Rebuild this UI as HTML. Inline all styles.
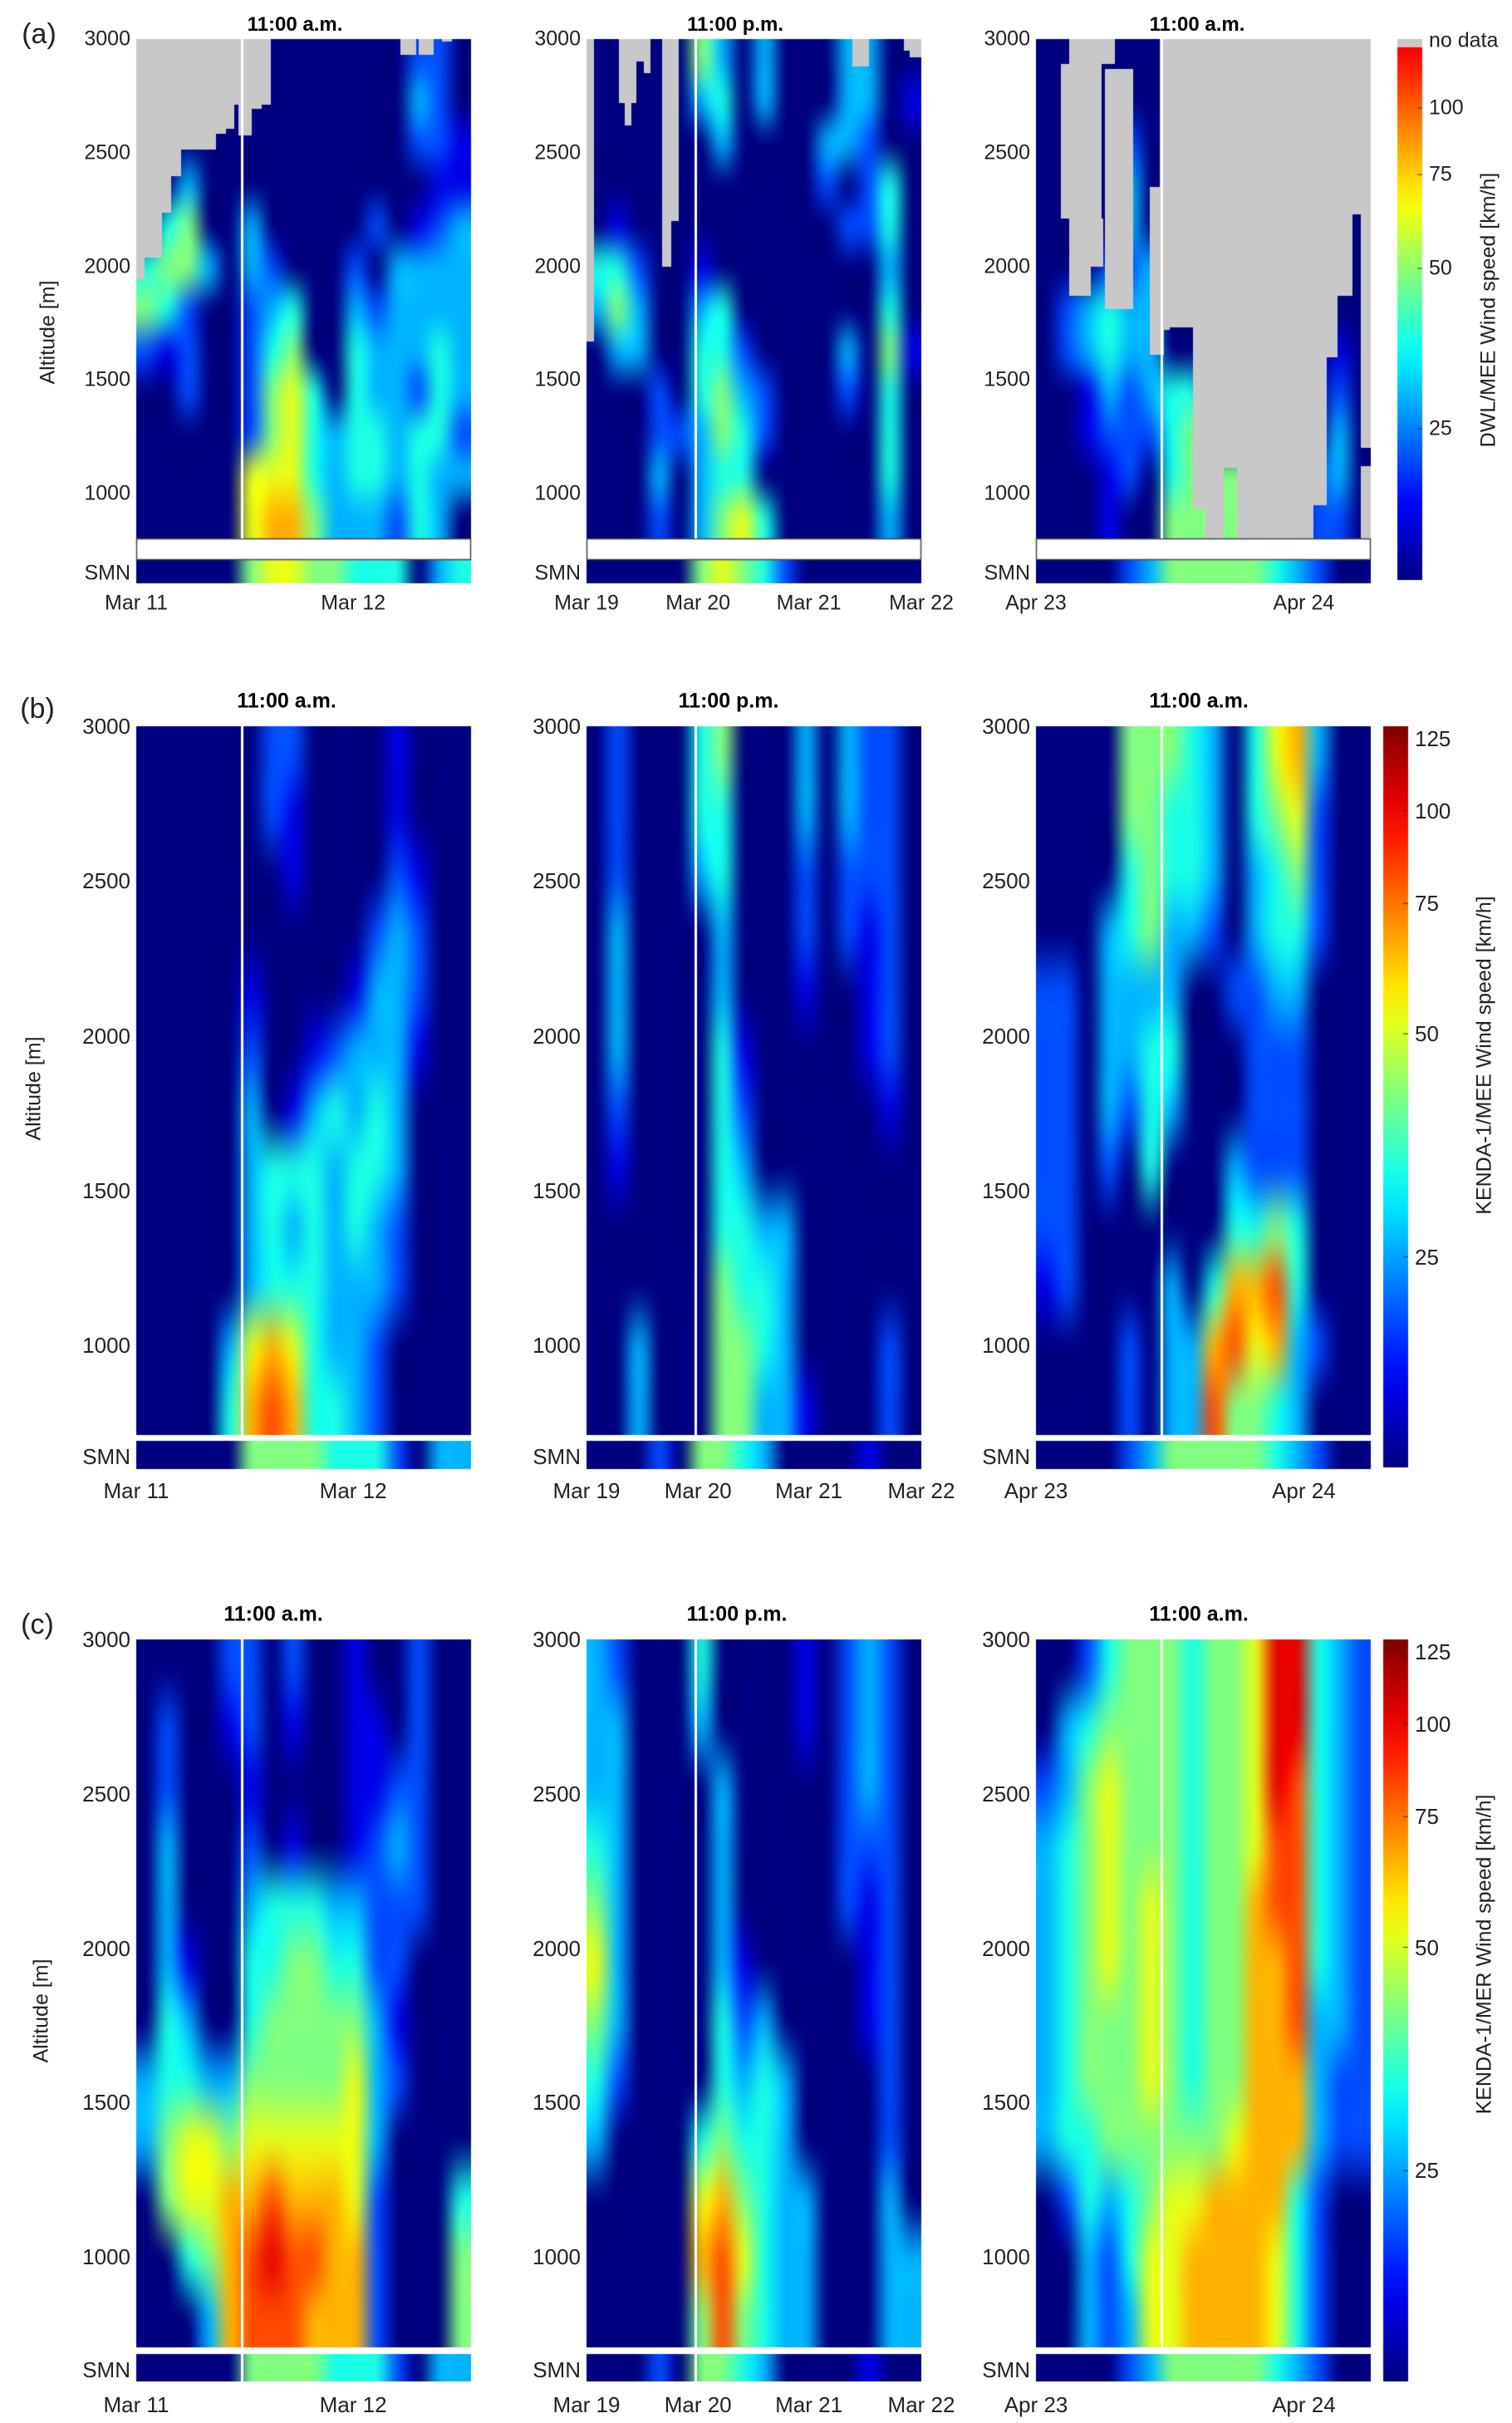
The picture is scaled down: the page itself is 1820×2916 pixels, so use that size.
<!DOCTYPE html>
<html><head><meta charset="utf-8">
<style>
html,body{margin:0;padding:0;background:#fff;}
body{width:1820px;height:2916px;position:relative;overflow:hidden;font-family:"Liberation Sans",sans-serif;color:#222;}
canvas{position:absolute;left:0;top:0;}
.t{position:absolute;white-space:nowrap;line-height:1;}
.ra{transform:translate(-100%,-50%);}
.ct{transform:translate(-50%,-50%);}
.lf{transform:translate(0,-50%);}
.fa{font-size:25px;}
.fb{font-family:"Liberation Sans Narrow","Liberation Sans",sans-serif;font-size:26px;}
.ttl{font-weight:bold;font-size:24px;color:#000;}
.ttlb{font-weight:bold;font-size:25px;color:#000;font-family:"Liberation Sans Narrow","Liberation Sans",sans-serif;}
.pl{font-size:34px;}
.rot{transform:translate(-50%,-50%) rotate(-90deg);}
</style></head>
<body>
<canvas id="cv" width="1820" height="2916"></canvas>
<script>
// ---------- DATA (levels 0-9 of wind speed, rows top=3000 m -> bottom) ----------
const altTicks = [1000,1500,2000,2500,3000];
const datesA = ["Mar 11","Mar 12"];
const datesB = ["Mar 19","Mar 20","Mar 21","Mar 22"];
const datesC = ["Apr 23","Apr 24"];
const dayFracA = [0,0.648];
const dayFracB = [0,0.333,0.664,1];
const dayFracC = [0,0.8];
const lineFrac = [0.316,0.324,0.375];
const titlesA = ["11:00  a.m.","11:00  p.m.","11:00  a.m."];
const titlesB = ["11:00 a.m.","11:00 p.m.","11:00 a.m."];
const cbTicksA = [25,50,75,100];
const cbTicksB = [25,50,75,100,125];

const a1 = ["0000000000000220","0000000000000320","0000000000000221","0030000000000011","0450030000020123","4553032000203333","5420023400323333","2120024500433343","0020025640433243","0000025643443442","0000066643443433","0000067753332430"];
const a2 = ["0000053030003300","0000034030003301","0000003000033200","0000000000020240","0100000000002240","4420010000000030","3530034000000040","0330044200003051","0002045320002040","0002235420000040","0003034400000040","0002035640000030"];
const a3 = ["0000000000000000","0000000000000000","0000200000000000","0000300000000000","0000300000000000","0002230000000000","0234330000000000","0234330000000010","0013234400000020","0012224500000030","0001204555500230","0001005555600220"];
const b1 = ["0000002200001000","0000002100001000","0000000100002100","0000000000023200","0000010000133200","0000020012333100","0000030134343000","0000034443443000","0000034343432000","0000034443332000","0000367643320000","0000478744320000"];
const b2 = ["0200045000303220","0200044000303220","0200034000202220","0300003000202120","0300003000100120","0300004100000120","0200004200000010","0100004300000000","0000004433000000","0000005443000000","0030005543000020","0030005533100020"];
const b3 = ["0000555430467300","0000554430456200","0000454430345200","0003453320344200","2203333002233000","2203344000222000","2203243000222000","2202040003222000","2200000004454000","1200003047784000","0000203378673200","0000203385543000"];
const c1 = ["0000220200100200","0200120100110200","0200010000112200","0300020100123200","0300034443322200","0310044554422000","0430045555531000","3443355555632000","3566566666630000","0566778777620004","0045789887720005","0003788877720005"];
const c2 = ["3200040000102320","3300030000102320","3300003000002320","4300003000002220","5300003000002120","6300003100000120","5300004230000120","4200004343000020","3000045443000020","0000067543300030","0000078643300033","0000058543300033"];
const c3 = ["0024555455699432","0345555455699432","2356555455698432","3456555455688432","3456565455788432","3456565455778432","3455565455778332","3455565455777322","3445555556777322","0243456677774200","0032466777764200","0032366777764200"];

const smnA1 = "0000056655444034";
const smnA2 = "0000056542000000";
const smnA3 = "0000235555543200";
const smnB1 = "0000055554442033";
const smnB2 = "0002055430000100";
const smnB3 = "0000235555543200";

// no-data regions: [xStartFrac, xEndFrac, altTop, altBottom]
const grayA1 = [[0,0.025,3000,1942],[0.025,0.077,3000,2040],[0.077,0.104,3000,2236],[0.104,0.133,3000,2396],[0.133,0.237,3000,2515],[0.237,0.267,3000,2582],[0.267,0.293,3000,2604],[0.293,0.306,3000,2710],[0.306,0.345,3000,2577],[0.345,0.375,3000,2692],[0.375,0.402,3000,2712],[0.788,0.836,3000,2929],[0.844,0.888,3000,2932],[0.913,0.943,3000,2990]];
const grayA2 = [[0,0.023,3000,1670],[0.096,0.15,3000,2720],[0.113,0.135,2720,2620],[0.15,0.17,3000,2900],[0.17,0.19,3000,2850],[0.225,0.252,3000,2000],[0.252,0.276,3000,2200],[0.794,0.844,3000,2880],[0.948,0.965,3000,2950],[0.965,1,3000,2920]];
const grayA3 = [[0.074,0.195,2890,2210],[0.10,0.165,2210,1870],[0.165,0.20,2210,2000],[0.10,0.235,3000,2890],[0.205,0.29,2870,1810],[0.34,0.37,2350,1610],[0.37,0.383,3000,1610],[0.383,0.40,3000,1720],[0.40,0.468,3000,1730],[0.468,0.505,3000,930],[0.505,0.56,3000,780],[0.56,0.60,3000,1115],[0.60,0.83,3000,780],[0.83,0.868,3000,950],[0.868,0.90,3000,1600],[0.90,0.945,3000,1870],[0.945,0.97,3000,2230],[0.97,1,3000,1200],[0.97,1,1120,780]];

// ---------- LAYOUT ----------
const colX = [164,706,1247];
const PW = 403;
const rowGeo = [
 {y1000:594,k:0.2735,dataBot:648,wTop:648,wBot:674,sTop:674,sBot:702,xl:726,cbX:1682,cbTop:57,cbBot:698,top:47},
 {y1000:1619,k:0.3725,dataBot:1727,wTop:1727,wBot:1734,sTop:1734,sBot:1768,xl:1794,cbX:1665,cbTop:874,cbBot:1766,top:874},
 {y1000:2716,k:0.3715,dataBot:2825,wTop:2825,wBot:2833,sTop:2833,sBot:2866,xl:2894,cbX:1665,cbTop:1973,cbBot:2866,top:1973}
];
const panels = [
 [ {d:a1,s:smnA1,g:grayA1},{d:a2,s:smnA2,g:grayA2},{d:a3,s:smnA3,g:grayA3} ],
 [ {d:b1,s:smnB1,g:[]},{d:b2,s:smnB2,g:[]},{d:b3,s:smnB3,g:[]} ],
 [ {d:c1,s:smnB1,g:[]},{d:c2,s:smnB2,g:[]},{d:c3,s:smnB3,g:[]} ]
];

function clamp(v){return Math.max(0,Math.min(1,v));}
function jet(t){
  return [Math.round(255*clamp(1.5-Math.abs(4*t-3))),Math.round(255*clamp(1.5-Math.abs(4*t-2))),Math.round(255*clamp(1.5-Math.abs(4*t-1)))];
}
function levelColor(l){return jet(l/10);}
function yAlt(g,alt){return g.y1000-(alt-1000)*g.k;}

const cv = document.getElementById('cv');
const ctx = cv.getContext('2d');

function gridCanvas(rows){
  const R=rows.length, C=rows[0].length;
  const oc=document.createElement('canvas'); oc.width=C; oc.height=R;
  const oc2=oc.getContext('2d'); const im=oc2.createImageData(C,R);
  for(let r=0;r<R;r++)for(let c=0;c<C;c++){
    const col=levelColor(parseInt(rows[r][c],10)); const i=(r*C+c)*4;
    im.data[i]=col[0];im.data[i+1]=col[1];im.data[i+2]=col[2];im.data[i+3]=255;
  }
  oc2.putImageData(im,0,0); return oc;
}

function addText(txt,x,y,cls,name){
  const d=document.createElement('div');
  d.textContent=txt; d.className='t '+cls;
  d.style.left=x+'px'; d.style.top=y+'px';
  
  
  document.body.appendChild(d);
}

ctx.imageSmoothingEnabled=true;
ctx.imageSmoothingQuality='high';
const dateSets=[[datesA,dayFracA],[datesB,dayFracB],[datesC,dayFracC]];

for(let ri=0;ri<3;ri++){
  const g=rowGeo[ri];
  const fcls = ri===0?'fa':'fb';
  for(let pi=0;pi<3;pi++){
    const p=panels[ri][pi]; const x0=colX[pi];
    const yTop=yAlt(g,3000);
    const gc=gridCanvas(p.d);
    ctx.drawImage(gc,0,0,gc.width,gc.height,x0,yTop,PW,g.dataBot-yTop);
    ctx.fillStyle='#c8c8c8';
    p.g.forEach(function(r){
      const xa=Math.round(x0+r[0]*PW), xb=Math.round(x0+r[1]*PW);
      const ya=Math.round(yAlt(g,r[2])); const yb=Math.round(Math.min(g.dataBot,yAlt(g,r[3])));
      ctx.fillRect(xa,ya,xb-xa,yb-ya);
    });
    const sc=gridCanvas([p.s]);
    ctx.drawImage(sc,0,0,sc.width,1,x0,g.sTop,PW,g.sBot-g.sTop);
    ctx.fillStyle='#fff'; ctx.fillRect(x0,g.wTop,PW,g.wBot-g.wTop);
    if(ri===0){ctx.strokeStyle='#444';ctx.lineWidth=1.5;ctx.strokeRect(x0+0.5,g.wTop+0.5,PW-1,g.wBot-g.wTop-1);}
    ctx.fillStyle='#fff';
    const lx=Math.round(x0+lineFrac[pi]*PW);
    ctx.fillRect(lx-1,yTop,3,(ri===2&&pi<2?g.sBot:g.dataBot)-yTop);
    altTicks.forEach(function(a){ addText(String(a),x0-7,yAlt(g,a),fcls+' ra','y-tick-label'); });
    addText('SMN',x0-7,(g.sTop+g.sBot)/2+2,fcls+' ra','smn-label');
    const ds=dateSets[pi];
    ds[0].forEach(function(lbl,j){ addText(lbl,x0+ds[1][j]*PW,g.xl,fcls+' ct','x-tick-label'); });
  }
}
const titleY=[30,844,1943];
const titleX=[[355,885,1441],[345,877,1443],[329,887,1443]];
for(let ri=0;ri<3;ri++)for(let pi=0;pi<3;pi++){
  addText(ri===0?titlesA[pi]:titlesB[pi],titleX[ri][pi],titleY[ri],(ri===0?'ttl':'ttlb')+' ct','panel-title');
}
addText('(a)',47,41,'pl ct','panel-label-a');
addText('(b)',45,853,'pl ct','panel-label-b');
addText('(c)',45,1955,'pl ct','panel-label-c');
addText('Altitude [m]',58,400,'fa rot','y-axis-title');
addText('Altitude [m]',41,1310,'fa rot','y-axis-title');
addText('Altitude [m]',50,2420,'fa rot','y-axis-title');

function cbY(g,v){const f=Math.log(v/13)/Math.log(130/13);return g.cbBot-f*(g.cbBot-g.cbTop);}
for(let ri=0;ri<3;ri++){
  const g=rowGeo[ri]; const w=30; const tmax= ri===0?0.88:1.0;
  const grd=ctx.createLinearGradient(0,g.cbBot,0,g.cbTop);
  for(let s=0;s<=20;s++){const c=jet(0.0+tmax*s/20);grd.addColorStop(s/20,'rgb('+c+')');}
  ctx.fillStyle=grd; ctx.fillRect(g.cbX,g.cbTop,w,g.cbBot-g.cbTop);
  if(ri===0){ctx.fillStyle='#c8c8c8';ctx.fillRect(g.cbX,g.top,w,g.cbTop-g.top);
    addText('no data',g.cbX+w+8,g.top+2,'fa lf','colorbar-nodata-label');}
  ctx.strokeStyle='#333';ctx.lineWidth=1;
  const ticks= ri===0?cbTicksA:cbTicksB;
  ticks.forEach(function(v){
    const y=cbY(g,v);
    ctx.beginPath();ctx.moveTo(g.cbX+w-6,y);ctx.lineTo(g.cbX+w,y);ctx.stroke();
    addText(String(v),g.cbX+w+8,y,(ri===0?'fa':'fb')+' lf','colorbar-tick-label');
  });
}
addText('DWL/MEE Wind speed [km/h]',1792,373,'fa rot','colorbar-title');
addText('KENDA-1/MEE Wind speed [km/h]',1787,1270,'fa rot','colorbar-title');
addText('KENDA-1/MER Wind speed [km/h]',1787,2352,'fa rot','colorbar-title');
</script>
</body></html>
